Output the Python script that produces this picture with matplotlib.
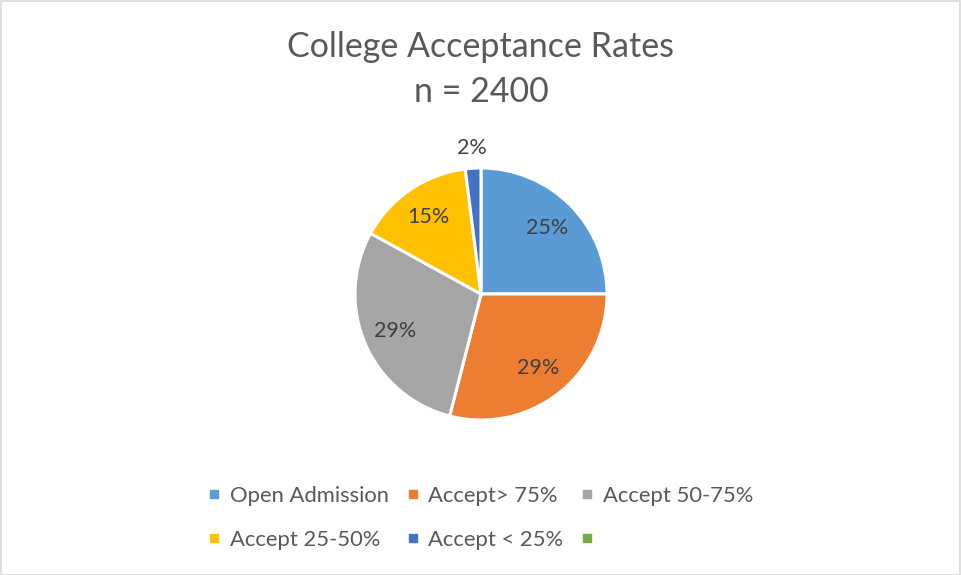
import matplotlib.pyplot as plt
from matplotlib.lines import Line2D
from matplotlib.patches import Rectangle

# data
categories = ["Open Admission", "Accept> 75%", "Accept 50-75%",
              "Accept 25-50%", "Accept < 25%", ""]
counts = [600, 696, 696, 360, 48, 0]
colors = ["#5B9BD5", "#ED7D31", "#A5A5A5", "#FFC000", "#4472C4", "#70AD47"]

plt.rcParams['font.family'] = ['Lato', 'DejaVu Sans']

W, H = 961, 575
fig = plt.figure(figsize=(W / 100, H / 100), dpi=100)

# light frame round the chart
fig.patches.append(Rectangle((0.5 / W, 0.5 / H), 1 - 1.5 / W, 1 - 1.5 / H,
                             transform=fig.transFigure, fill=False,
                             edgecolor="#D9D9D9", linewidth=1.2))

# pie axes: centre (481, 294) px, radius 126 px
cx, cy, r = 481, 294, 126
ax = fig.add_axes([(cx - r) / W, (H - cy - r) / H, 2 * r / W, 2 * r / H])

vals = [v for v in counts if v > 0]
cols = colors[:len(vals)]
wedges, texts, autotexts = ax.pie(
    vals, colors=cols, startangle=90, counterclock=False,
    autopct="%1.0f%%", pctdistance=0.74,
    wedgeprops=dict(edgecolor="white", linewidth=2.2),
    textprops=dict(color="#404040", fontsize=15.5))
ax.set_xlim(-1, 1)
ax.set_ylim(-1, 1)
ax.set_aspect("equal")

# the small slice has its label outside
x, y = autotexts[-1].get_position()
autotexts[-1].set_position((x * 1.16 / 0.74, y * 1.16 / 0.74))

fig.text(cx / W, 1 - 47 / H, "College Acceptance Rates", ha="center",
         va="center", fontsize=24.5, color="#595959")
fig.text(cx / W, 1 - 92 / H, "n = 2400", ha="center", va="center",
         fontsize=24.5, color="#595959")

handles = [Line2D([], [], marker="s", linestyle="none", markersize=6,
                  markerfacecolor=c, markeredgecolor=c) for c in colors]
order = [0, 3, 1, 4, 2, 5]
fig.legend([handles[i] for i in order], [categories[i] for i in order],
           ncol=3, loc="center", bbox_to_anchor=(cx / W, 1 - 518 / H),
           frameon=False, fontsize=15.8, labelcolor="#595959",
           handlelength=0.5, handletextpad=0.45, columnspacing=0.85,
           labelspacing=1.1)

fig.savefig("out.png", dpi=100)
